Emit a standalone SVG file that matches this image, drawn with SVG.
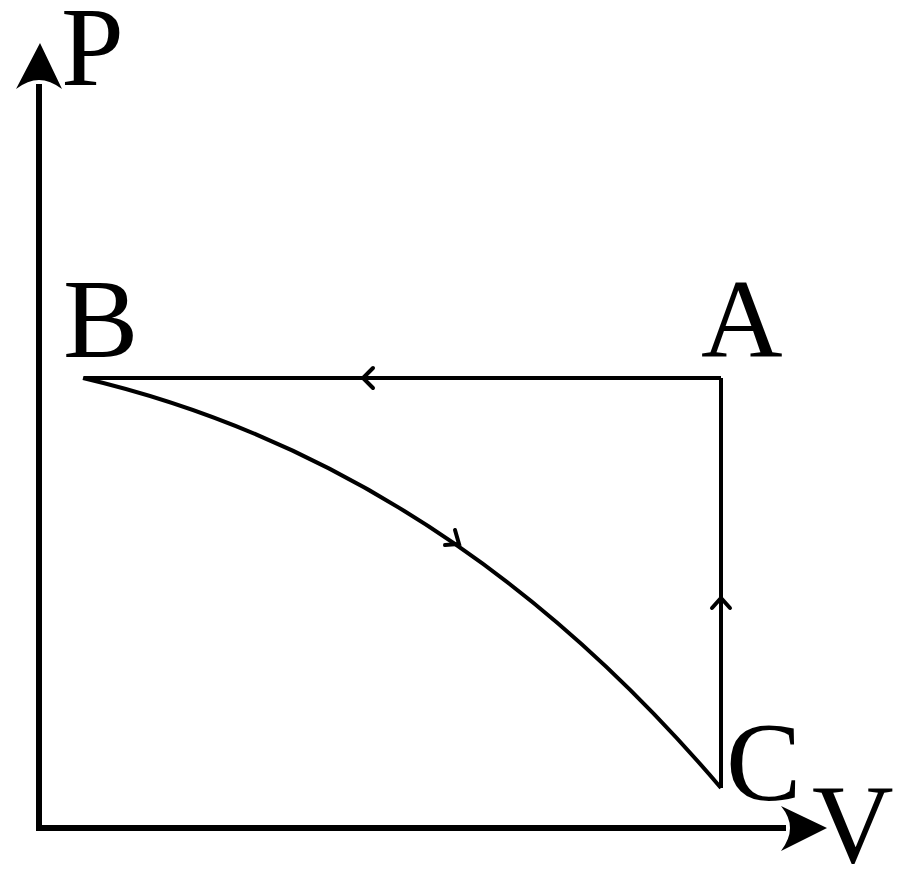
<svg xmlns="http://www.w3.org/2000/svg" width="900" height="884" viewBox="0 0 900 884">
<style>
.lbl{font-family:"Liberation Serif","Times New Roman",serif;font-size:113px;fill:#000}
.axis{stroke:#000;stroke-width:6;fill:none}
.path{stroke:#000;stroke-width:4;fill:none}
.chev{stroke:#000;stroke-width:4;fill:none;stroke-linecap:round;stroke-linejoin:miter}
.head{fill:#000;stroke:none}
</style>
<rect width="900" height="884" fill="#fff"/>
<g id="axes">
<path class="axis" d="M39,84 V828 H786"/>
<path class="head" d="M40,43 L62,89 Q50,80 39,80 Q28,80 16,89 Z"/>
<path class="head" d="M827,828 L781,806 Q790,817 790,828 Q790,839 781,851 Z"/>
</g>
<g id="connectors">
<path class="path" d="M721,378 H84"/>
<path class="path" d="M721,788 V378"/>
<path class="path" d="M83,378 Q445,463 721,788"/>
<path class="chev" d="M373,368 L363,378 L373,388"/>
<path class="chev" d="M712,608 L721,598 L730,608"/>
<path class="chev" d="M455,530 L459,544 L445,545"/>
</g>
<g id="label-P"><text class="lbl" x="61" y="85">P</text></g>
<g id="label-V"><text class="lbl" x="812" y="862">V</text></g>
<g id="node-B"><text class="lbl" x="63" y="357">B</text></g>
<g id="node-A"><text class="lbl" x="701" y="357">A</text></g>
<g id="node-C"><text class="lbl" x="726" y="800">C</text></g>
</svg>
